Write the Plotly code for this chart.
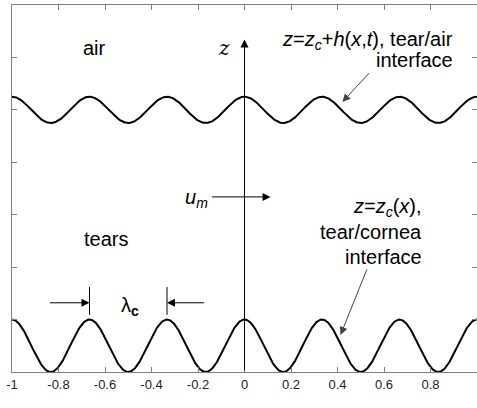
import numpy as np
import plotly.graph_objects as go

# ---- data / parameters ----
x_range = [-1, 1]
y_range = [0, 7]
x_tick_vals = [-1, -0.8, -0.6, -0.4, -0.2, 0, 0.2, 0.4, 0.6, 0.8, 1]
x_tick_text = ["-1", "-0.8", "-0.6", "-0.4", "-0.2", "0", "0.2", "0.4", "0.6", "0.8", "1"]
y_tick_vals = [0, 1, 2, 3, 4, 5, 6, 7]

wavelength = 1.0 / 3.0          # lambda_c
cornea_mean = 0.5               # z_c mean level
cornea_amp = 0.5                # z_c amplitude
air_mean = 5.0                  # z_c + h mean level
air_amp = 0.25                  # z_c + h amplitude

x = np.linspace(-1, 1, 801)
z_cornea = cornea_mean + cornea_amp * np.cos(2 * np.pi * x / wavelength)
z_air = air_mean + air_amp * np.cos(2 * np.pi * x / wavelength)

FONT = "Liberation Sans, Arial, sans-serif"
SERIF = "DejaVu Serif, serif"

fig = go.Figure()
fig.add_trace(go.Scatter(x=x, y=z_cornea, mode="lines",
                         line=dict(color="black", width=2), showlegend=False))
fig.add_trace(go.Scatter(x=x, y=z_air, mode="lines",
                         line=dict(color="black", width=2), showlegend=False))

ann = []

def arrow(xt, yt, xs, ys, color="black"):
    return dict(x=xt, y=yt, ax=xs, ay=ys, xref="x", yref="y", axref="x", ayref="y",
                text="", showarrow=True, arrowhead=2, arrowsize=1.6, arrowwidth=1,
                arrowcolor=color, standoff=0)

ann.append(arrow(0, 6.34, 0, 0))                  # z axis arrow
ann.append(arrow(0.112, 3.34, -0.146, 3.34))      # u_m arrow
ann.append(arrow(0.421, 5.15, 0.542, 5.73, "#444444"))   # tear/air pointer
ann.append(arrow(0.413, 0.706, 0.529, 1.985, "#444444")) # tear/cornea pointer
ann.append(arrow(-2 / 3, 1.32, -0.843, 1.32))     # lambda_c arrows
ann.append(arrow(-1 / 3, 1.32, -0.168, 1.32))

def txt(x0, y0, s, size=20, xanchor="center", family=FONT):
    return dict(x=x0, y=y0, xref="x", yref="y", text=s, showarrow=False,
                xanchor=xanchor, yanchor="middle",
                font=dict(family=family, size=size, color="black"))

ann.append(txt(-0.645, 6.18, "air"))
ann.append(txt(-0.596, 2.54, "tears"))
ann.append(txt(-0.09, 6.18, "<i>z</i>", size=20, family=SERIF))
ann.append(txt(0.0, -0.50, "<i>x</i>", size=20, family=SERIF))
ann.append(txt(0.905, 6.32, "<i>z</i>=<i>z</i><sub><i>c</i></sub>+<i>h</i>(<i>x</i>,<i>t</i>), tear/air", xanchor="right"))
ann.append(txt(0.905, 5.95, "interface", xanchor="right"))
ann.append(txt(0.772, 3.13, "<i>z</i>=<i>z</i><sub><i>c</i></sub>(<i>x</i>),", xanchor="right"))
ann.append(txt(0.772, 2.67, "tear/cornea", xanchor="right"))
ann.append(txt(0.772, 2.20, "interface", xanchor="right"))
ann.append(txt(-0.148, 3.30, "<i>u</i><sub><i>m</i></sub>", xanchor="right"))
ann.append(txt(-0.492, 1.24, "λ<sub><b>c</b></sub>"))

shapes = []
for xv in [-2 / 3, -1 / 3]:
    shapes.append(dict(type="line", xref="x", yref="y", x0=xv, x1=xv, y0=1.09, y1=1.62,
                       line=dict(color="black", width=1)))

axis_common = dict(showline=True, linecolor="#808080", linewidth=1, mirror="ticks",
                   ticks="inside", ticklen=5, tickcolor="#808080", showgrid=False,
                   zeroline=False)

fig.update_layout(
    width=477, height=408,
    margin=dict(l=12, r=0, t=5, b=36),
    paper_bgcolor="white", plot_bgcolor="white",
    annotations=ann, shapes=shapes,
    xaxis=dict(range=x_range, tickvals=x_tick_vals, ticktext=x_tick_text,
               tickfont=dict(family=FONT, size=13, color="#222222"), **axis_common),
    yaxis=dict(range=y_range, tickvals=y_tick_vals, showticklabels=False, **axis_common),
)

fig.write_html("out.html")
